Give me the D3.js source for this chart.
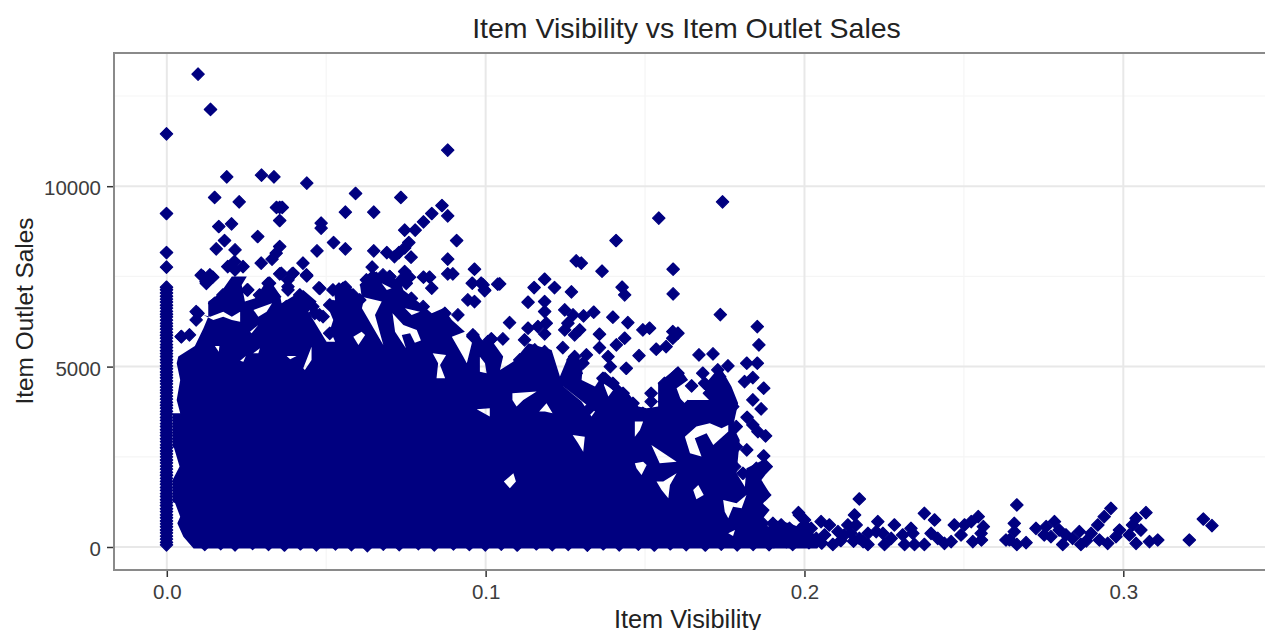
<!DOCTYPE html>
<html><head><meta charset="utf-8">
<script src="https://cdn.jsdelivr.net/npm/d3@7"></script>
<style>html,body{margin:0;padding:0;background:#fff;overflow:hidden}svg{display:block}text{font-family:"Liberation Sans",Arial,sans-serif}</style>
</head><body><svg id="c" width="1265" height="630"></svg>
<script>
const chartTitle="Item Visibility vs Item Outlet Sales", xTitle="Item Visibility", yTitle="Item Outlet Sales";
const xMajor=[0,0.1,0.2,0.3], xMinor=[0.05,0.15,0.25,0.35];
const yMajor=[0,5000,10000], yMinor=[2500,7500,12500];

// Items with zero visibility, read along the vertical strip at x = 0
const zeroSales=[11452,9243,8162,7755,7200,7130,7040,6950,6870,6790,6700,6620,6530,6450,6380,6290,6200,6120,6040,5950,5870,5790,5700,5610,5530,5440,5360,5280,5190,5110,5020,4940,4850,4770,4690,4600,4520,4430,4350,4270,4180,4100,4010,3930,3850,3760,3680,3590,3510,3420,3340,3250,3170,3090,3000,2920,2830,2750,2660,2580,2500,2410,2330,2240,2160,2070,1990,1900,1820,1740,1650,1570,1480,1400,1310,1230,1150,1060,980,890,810,720,640,560,470,390,300,220,130,60];

// Points separable above the solid mass (visibility, sales)
const sparsePoints=[[.0099,13106],[.0138,12127],[.0882,11000],[.0189,10260],[.0298,10306],[.0337,10260],[.044,10085],[.0151,9687],[.0228,9567],[.0593,9798],[.0735,9687],[.0355,9410],[.0363,9410],[.0345,9410],[.0355,9049],[.0561,9280],[.065,9280],[.0864,9465],[.0832,9243],[.0806,9012],[.078,8781],[.0747,8781],[.0882,9178],[.0164,8882],[.0204,8956],[.0485,8975],[.0485,8836],[.0286,8605],[.0182,8494],[.0156,8263],[.091,8494],[.0215,8235],[.0355,8328],[.0344,8143],[.0524,8439],[.0472,8208],[.0561,8263],[.065,8208],[.0691,8161],[.0729,8161],[.076,8439],[.0747,8290],[.0715,8050],[.0767,8032],[.0882,7977],[.0331,7977],[.0297,7866],[.0428,7866],[.0213,7912],[.0192,7773],[.024,7773],[.0215,7680],[.0882,7570],[.0898,7570],[.0966,7699],[.0645,7755],[.044,7514],[.0355,7570],[.0394,7570],[.0381,7404],[.0381,7126],[.0109,7533],[.0124,7357],[.0145,7477],[.0747,7635],[.0762,7477],[.0736,7404],[.0806,7477],[.0825,7477],[.0832,7173],[.0679,7542],[.07,7496],[.0627,7404],[.0647,7496],[.0478,7182],[.0255,7126],[.0323,7311],[.0541,7145],[.0561,7200],[.0584,6895],[.0959,7311],[.0987,7311],[.0997,7126],[.1039,7283],[.0945,6849],[.0966,6803],[.0914,6433],[.048,6433],[.0459,6664],[.0428,6895],[.0522,6664],[.0093,6525],[.0093,6295],[.0046,5832],[.0072,5878],[.0961,5832],[.1018,5758],
[.1744,9566],[.1544,9114],[.141,8494],[.1285,7930],[.1301,7866],[.1366,7644],[.1589,7699],[.1589,7015],[.1737,6442],[.1429,7200],[.1437,6988],[.1045,7293],[.0993,7265],[.0998,7108],[.1186,7422],[.1153,7191],[.1217,7191],[.127,7071],[.1134,6784],[.1186,6803],[.1186,6526],[.1191,6202],[.1076,6220],[.1165,6110],[.1134,6063],[.1186,5906],[.1123,5740],[.1055,5768],[.1019,5768],[.1249,6572],[.1275,6433],[.1259,6202],[.1249,6017],[.1308,6405],[.134,6507],[.1296,6017],[.128,5879],[.14,6368],[.1447,6220],[.1358,5897],[.1358,5527],[.1494,6017],[.1515,6063],[.1437,5786],[.1411,5601],[.1588,5971],[.1604,5925],[.1588,5786],[.1567,5555],[.1536,5481],[.1853,6110],[.1858,5601],[.1482,5305],[.1442,4954],[.1243,5527],[.1385,5278],[.1392,5000],[.1317,5324],[.128,5278],[.167,5324],[.1714,5352],[.182,5093],[.1853,5093],[.1761,5019],[.1729,4908],[.1839,4695],[.1813,4585],[.1873,4400],[.1839,4076],[.1865,3827],[.1821,3596],[.1839,3383],[.1879,3078],[.1855,3198],[.182,2690],[.1873,2523],[.1881,2228],[.1682,4816],[.1604,4816],[.1647,4464],[.152,4261],[.152,4030],[.1322,3799]];

// Points that form the lumpy edge of the mass (visibility, sales)
const edgePoints=[[.1118,5185],[.1155,5463],[.1186,5416],[.1134,4908],[.1108,5185],[.1176,5185],[.1275,5185],[.1285,4816],[.1306,5093],[.1369,4677],[.14,4538],[.1432,4261],[.1463,3984],[.1494,3706],[.152,3429],[.1562,4538],[.1599,4769],[.1583,4169],[.1609,3938],[.1562,4030],[.1688,4538],[.1703,4261],[.1735,4723],[.1745,4353],[.1761,4076],[.1776,3891],[.1787,3337],[.1787,2782],[.1782,2228],[.1635,3891],[.1672,3799],[.1714,3845],[.1808,2043],[.185,2181],[.1876,1442],[.1865,1026],[.187,656],[.1902,656],[.1928,564],[.1954,518],[.1985,379],[.2001,749],
[.0047,5830],[.0099,6477],[.0115,7494],[.0136,7540],[.0125,7309],[.0151,6754],[.0177,6985],[.0214,7309],[.0193,7078],[.0253,7124],[.0319,7309],[.0292,6985],[.0339,6939],[.036,7586],[.0397,7586],[.0381,7216],[.0439,7540],[.0481,7170],[.0418,6985],[.0465,6477],[.0376,6662],[.0428,6893],
[.0554,7170],[.0522,7124],[.0585,6985],[.0512,6708],[.0491,6385],[.0606,6847],[.0512,5923],[.0627,7263],[.0658,7447],[.07,7494],[.0752,7309],[.0768,6893],[.0805,6662],[.0873,6477],[.0961,5877],[.1008,5692]];

// Low-value items past the solid mass (visibility, sales)
const tailPoints=[[.1985,887],[.2173,1331],[.1982,952],[.2667,1165],[.3072,952],[.3252,776],[.3279,592],[.3208,194],[.2962,1072],[.2941,841],[.2921,610],[.29,379],[.3041,795],[.303,610],[.302,333],[.3056,471],[.3041,102],[.3083,148],[.3109,194],[.2989,471],[.2978,287],[.2952,102],[.2926,194],[.2863,425],[.2868,70],[.2842,240],[.2885,170],[.2811,70],[.2785,702],[.28,471],[.2774,287],[.2821,333],[.2727,518],[.2753,333],[.2759,564],[.2659,656],[.2659,425],[.2633,194],[.2667,70],[.2696,120],[.2644,200],[.2546,841],[.2524,702],[.2562,564],[.2556,194],[.2529,148],[.2503,610],[.2471,610],[.2492,333],[.2461,148],[.244,102],[.2555,379],[.2377,933],[.2409,749],[.2398,379],[.2419,240],[.2377,70],[.2341,379],[.2346,70],[.2315,70],[.2283,610],[.2309,333],[.2335,518],[.2273,240],[.2252,70],[.2231,702],[.2226,425],[.22,70],[.2247,379],[.2173,240],[.22,379],[.2158,887],[.2163,610],[.2137,610],[.2147,379],[.2126,333],[.209,70],[.2106,425],[.2079,610],[.2053,702],[.2064,333],[.2038,240],[.2022,518],[.2001,610],[.1985,471],[.1964,70],[.1944,148],[.2011,333],[.1928,610],[.1954,379],[.1933,240],[.2115,180],[.2155,160],[.2185,150],[.2055,110],[.2015,120],[.1905,150]];

// Lowest-selling items along the floor of the mass (visibility, sales)
const floorPoints=[[.012,70],[.017,95],[.0215,60],[.027,100],[.032,75],[.037,55],[.042,90],[.047,60],[.053,85],[.058,65],[.063,40],[.068,80],[.073,65],[.079,95],[.084,60],[.09,85],[.095,70],[.1,60],[.105,80],[.11,55],[.116,90],[.121,65],[.126,75],[.132,50],[.137,90],[.142,60],[.148,80],[.153,55],[.158,90],[.163,65],[.169,55],[.174,80],[.179,60],[.184,75],[.189,65]];

// Outline of the fully overplotted mass, read clockwise from its lower left
const massOutline=[[.0084,-40],[.0052,287],[.0033,656],[.0042,841],[.0026,1211],[.0018,1257],[.0018,1858],[.004,2228],[.0023,2736],[.0018,2782],[.0018,3707],[.0042,3707],[.0031,4076],[.0042,4631],[.0031,5093],[.0036,5278],[.0088,5572],[.0115,6061],[.013,6385],[.013,6801],[.0167,7032],[.0204,7500],[.0251,7500],[.0235,7263],[.0245,6801],[.0277,6893],[.0319,7447],[.0355,6985],[.036,6754],[.0428,7124],[.047,6801],[.0444,6523],[.0501,5692],[.0528,5692],[.0512,6015],[.0522,6292],[.05,6754],[.0528,6847],[.0522,7170],[.0555,7355],[.0585,7124],[.0617,6801],[.0612,6616],[.0679,5599],[.0653,6431],[.0674,6801],[.0611,6939],[.0606,7263],[.0632,7500],[.069,7496],[.0731,7400],[.0742,7124],[.0794,6754],[.0831,6477],[.0867,6616],[.0894,6292],[.0935,5969],[.0894,5830],[.093,5276],[.0941,5091],[.0967,6015],[.0993,5692],[.1014,5784],[.1055,5278],[.1045,4908],[.1087,5139],[.1134,5647],[.1207,5463],[.1233,4723],[.1259,5278],[.1306,5139],[.1301,4631],[.1343,4446],[.1374,4862],[.1452,4215],[.1479,3891],[.1505,3845],[.1541,3891],[.1541,4538],[.1604,5000],[.1635,4631],[.1599,4400],[.162,3891],[.1635,4076],[.1703,4076],[.1682,4446],[.1735,5000],[.1771,4446],[.1792,3984],[.1776,3337],[.1797,2967],[.1787,2043],[.1813,1673],[.1818,2181],[.187,2412],[.1897,2228],[.1865,1858],[.1891,1488],[.187,1200],[.1891,1026],[.187,800],[.1886,564],[.1902,749],[.1954,656],[.2027,379],[.206,150],[.204,-40]];

// White gaps left inside the mass (visibility, sales)
const massHoles=[
[[.1084,4261],[.116,4307],[.1118,4076],[.1097,3891],[.1084,4076]],
[[.1168,3753],[.1191,3984],[.121,3706],[.1186,3753]],
[[.1273,3106],[.1311,3059],[.1306,2643],[.129,2875]],
[[.1057,1812],[.1087,2043],[.1095,1812],[.1076,1627]],
[[.1745,1303],[.1787,1211],[.1818,1442],[.1803,1072],[.1776,1118],[.1761,795],[.175,980]],
[[.1651,1581],[.1667,1719],[.1684,1442],[.1661,1322]],
[[.1536,1812],[.1557,1812],[.1599,2043],[.1578,1719],[.1573,1349],[.1552,1581]],
[[.1468,2320],[.1494,2366],[.1505,2274],[.1489,1996],[.1473,2181]],
[[.1625,3059],[.1661,3337],[.1703,3429],[.174,3290],[.1761,3383],[.1761,3198],[.1714,2828],[.1693,3152],[.1656,3013],[.1677,2505],[.1641,2597]],
[[.152,2828],[.1599,2366],[.1546,2320]],
[[.1468,3475],[.1494,3475],[.1484,3244],[.1468,3059]],
[[.1369,4538],[.14,4353],[.1385,4169]],
[[.1238,4492],[.1343,3753],[.1332,3614],[.1301,4030]],
[[.1761,379],[.1782,471],[.1776,305]],
[[.0972,3817],[.1013,3845],[.1013,3614]],
[[.0115,6431],[.0136,6385],[.0177,6523],[.0204,6385],[.023,6523],[.023,6246],[.0204,6292],[.0177,6385],[.0146,6292]],
[[.0272,6570],[.033,6754],[.0313,6523],[.0287,6385]],
[[.0261,5969],[.0287,6154],[.0266,5923]],
[[.0151,5572],[.0165,5572],[.0163,5415]],
[[.0271,5368],[.0292,5507],[.0287,5368]],
[[.023,5165],[.0248,5295],[.024,5137]],
[[.0428,4953],[.0454,5553],[.0454,5184],[.0433,4906]],
[[.0376,5295],[.0407,5295],[.0387,5202]],
[[.0585,5830],[.0611,5969],[.0622,5877],[.0601,5599]],
[[.0708,6477],[.0742,6154],[.0784,6015],[.0797,5720],[.0778,5664],[.0763,5923],[.0737,5877],[.075,5507],[.0716,5969]],
[[.0747,6616],[.0794,6523],[.0768,6431]],
[[.0674,7309],[.0705,7170],[.069,7124]],
[[.0834,5368],[.0876,5322],[.0857,5045],[.0873,4676],[.0846,4676],[.0851,5091]],
[[.0982,5276],[.0998,5091],[.1003,4814],[.0982,4860]]
];

const W=1265,H=630,panelLeft=114,panelTop=53,panelBottom=570;
const x=d3.scaleLinear().domain([0,0.3]).range([166.8,1123.3]);
const y=d3.scaleLinear().domain([0,10000]).range([547,186.2]);
const svg=d3.select("#c");
const grid=svg.append("g");
grid.selectAll(".xn").data(xMinor).join("line").attr("x1",d=>x(d)).attr("x2",d=>x(d)).attr("y1",panelTop).attr("y2",panelBottom).attr("stroke","#f5f5f5").attr("stroke-width",1.2);
grid.selectAll(".yn").data(yMinor).join("line").attr("y1",d=>y(d)).attr("y2",d=>y(d)).attr("x1",panelLeft).attr("x2",W).attr("stroke","#f5f5f5").attr("stroke-width",1.2);
grid.selectAll(".xm").data(xMajor).join("line").attr("x1",d=>x(d)).attr("x2",d=>x(d)).attr("y1",panelTop).attr("y2",panelBottom).attr("stroke","#e8e8e8").attr("stroke-width",2);
grid.selectAll(".ym").data(yMajor).join("line").attr("y1",d=>y(d)).attr("y2",d=>y(d)).attr("x1",panelLeft).attr("x2",W).attr("stroke","#e8e8e8").attr("stroke-width",2);

const line=d3.line().x(d=>x(d[0])).y(d=>y(d[1])).curve(d3.curveLinearClosed);
svg.append("path").attr("d",[massOutline,...massHoles].map(r=>line(r)).join(" ")).attr("fill","#000080").attr("fill-rule","evenodd");

const sym=d3.symbol().type(d3.symbolDiamond2).size(98)();
const pts=[...zeroSales.map(s=>[0,s]),...sparsePoints,...edgePoints,...tailPoints,...floorPoints];
svg.append("g").selectAll("path").data(pts).join("path").attr("d",sym)
 .attr("transform",d=>`translate(${x(d[0])-.3},${y(d[1])})`)
 .attr("fill","#000080").attr("stroke","#000080").attr("stroke-width",1.2).attr("stroke-linejoin","round");

// panel border
svg.append("path").attr("d",`M${W},${panelTop}H${panelLeft}V${panelBottom}H${W}`).attr("fill","none").attr("stroke","#8a8a8a").attr("stroke-width",2);

const xAxis=d3.axisBottom(x).tickValues(xMajor).tickFormat(d3.format(".1f")).tickSize(6).tickPadding(7);
const gx=svg.append("g").attr("transform",`translate(0,${panelBottom+1})`).call(xAxis);
const yAxis=d3.axisLeft(y).tickValues(yMajor).tickFormat(d3.format("d")).tickSize(6).tickPadding(6);
const gy=svg.append("g").attr("transform",`translate(${panelLeft-1},0)`).call(yAxis);
[gx,gy].forEach(g=>{g.select(".domain").remove();g.selectAll(".tick line").attr("stroke","#333").attr("stroke-width",1.5);g.selectAll("text").attr("font-size",20.5).attr("fill","#3d3d3d").style("font-family",'"Liberation Sans",Arial,sans-serif');});
gy.selectAll("text").attr("dy","0.42em");

svg.append("text").attr("x",686.5).attr("y",38).attr("text-anchor","middle").attr("font-size",28.5).attr("fill","#222").text(chartTitle);
svg.append("text").attr("x",687.5).attr("y",628).attr("text-anchor","middle").attr("font-size",25.3).attr("fill","#222").text(xTitle);
svg.append("text").attr("transform","translate(33,311) rotate(-90)").attr("text-anchor","middle").attr("font-size",24.4).attr("fill","#222").text(yTitle);
</script></body></html>
